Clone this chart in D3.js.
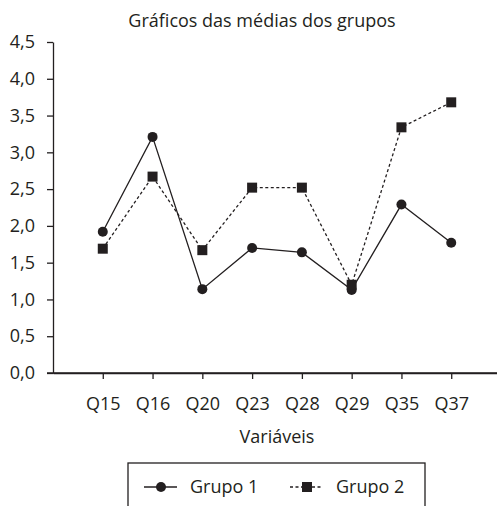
<!DOCTYPE html>
<html>
<head>
<meta charset="utf-8">
<script src="https://cdn.jsdelivr.net/npm/d3@7"></script>
<style>
  body { margin: 0; background: #fff; }
  text { font-family: "Open Sans", sans-serif; fill: #231f20; }
</style>
</head>
<body>
<div id="canvas"></div>
<script>
// DATA
const categories = ["Q15", "Q16", "Q20", "Q23", "Q28", "Q29", "Q35", "Q37"];
const grupo1 = [1.92, 3.21, 1.14, 1.70, 1.64, 1.13, 2.29, 1.77];
const grupo2 = [1.69, 2.67, 1.67, 2.52, 2.52, 1.20, 3.34, 3.68];
const yTicks = [0, 0.5, 1, 1.5, 2, 2.5, 3, 3.5, 4, 4.5];

// DIMENSIONS
const width = 497;
const height = 506;
const margin = { top: 42, right: -4, bottom: 133, left: 53 };
const plot_width = width - margin.left - margin.right;
const plot_height = height - margin.top - margin.bottom;
const ink = "#231f20";
const fs = "18px";

const canvas = d3.select("#canvas")
  .append("svg")
  .attr("width", width)
  .attr("height", height);

// TITLE
canvas.append("text")
  .attr("x", 262)
  .attr("y", 27)
  .attr("text-anchor", "middle")
  .style("font-size", fs)
  .text("Gráficos das médias dos grupos");

const plot = canvas.append("g")
  .attr("transform", `translate(${margin.left},${margin.top})`);

// SCALES
const scaleX = d3.scalePoint().domain(categories).range([0, plot_width]).padding(1);
const scaleY = d3.scaleLinear().domain([0, 4.5]).range([plot_height, 0]);

const comma = d => d3.format(".1f")(d).replace(".", ",");

// AXES
const yaxis = plot.append("g")
  .call(d3.axisLeft(scaleY).tickValues(yTicks).tickFormat(comma).tickSize(6).tickSizeOuter(0).tickPadding(12));

const xaxis = plot.append("g")
  .attr("transform", `translate(0,${plot_height})`)
  .call(d3.axisBottom(scaleX).tickSize(6).tickSizeOuter(0).tickPadding(18));

plot.append("line")
  .attr("x1", -6).attr("x2", plot_width)
  .attr("y1", plot_height).attr("y2", plot_height)
  .attr("stroke", ink).attr("stroke-width", 1.3);

[xaxis, yaxis].forEach(ax => {
  ax.selectAll("path, line").attr("stroke", ink).attr("stroke-width", 1.3);
  ax.selectAll("text").style("font-size", fs).attr("fill", ink);
});

// LABEL
plot.append("text")
  .attr("x", 224)
  .attr("y", plot_height + 70)
  .attr("text-anchor", "middle")
  .style("font-size", fs)
  .text("Variáveis");

// LINES
const series = [
  { name: "Grupo 1", values: grupo1, dash: null, shape: "circle" },
  { name: "Grupo 2", values: grupo2, dash: "3,2.5", shape: "square" }
];

const line = d3.line()
  .x((d, i) => scaleX(categories[i]))
  .y(d => scaleY(d));

function marker(g, shape, x, y) {
  if (shape === "circle") {
    g.append("circle").attr("cx", x).attr("cy", y).attr("r", 5).attr("fill", ink);
  } else {
    g.append("rect").attr("x", x - 5).attr("y", y - 5).attr("width", 10).attr("height", 10).attr("fill", ink);
  }
}

series.forEach(s => {
  plot.append("path")
    .datum(s.values)
    .attr("d", line)
    .attr("fill", "none")
    .attr("stroke", ink)
    .attr("stroke-width", 1.3)
    .attr("stroke-dasharray", s.dash);
});

series.forEach(s => {
  const g = plot.append("g");
  s.values.forEach((v, i) => marker(g, s.shape, scaleX(categories[i]), scaleY(v)));
});

// LEGEND
const legend = canvas.append("g");
legend.append("rect")
  .attr("x", 128).attr("y", 463)
  .attr("width", 297).attr("height", 60)
  .attr("fill", "none").attr("stroke", ink).attr("stroke-width", 1.3);

const legendX = [144, 290];
series.forEach((s, i) => {
  const x0 = legendX[i];
  const y0 = 487;
  legend.append("line")
    .attr("x1", x0).attr("x2", x0 + 33)
    .attr("y1", y0).attr("y2", y0)
    .attr("stroke", ink).attr("stroke-width", 1.3)
    .attr("stroke-dasharray", s.dash);
  marker(legend, s.shape, x0 + 17, y0);
  legend.append("text")
    .attr("x", x0 + 46)
    .attr("y", y0 + 6)
    .style("font-size", fs)
    .text(s.name);
});
</script>
</body>
</html>
